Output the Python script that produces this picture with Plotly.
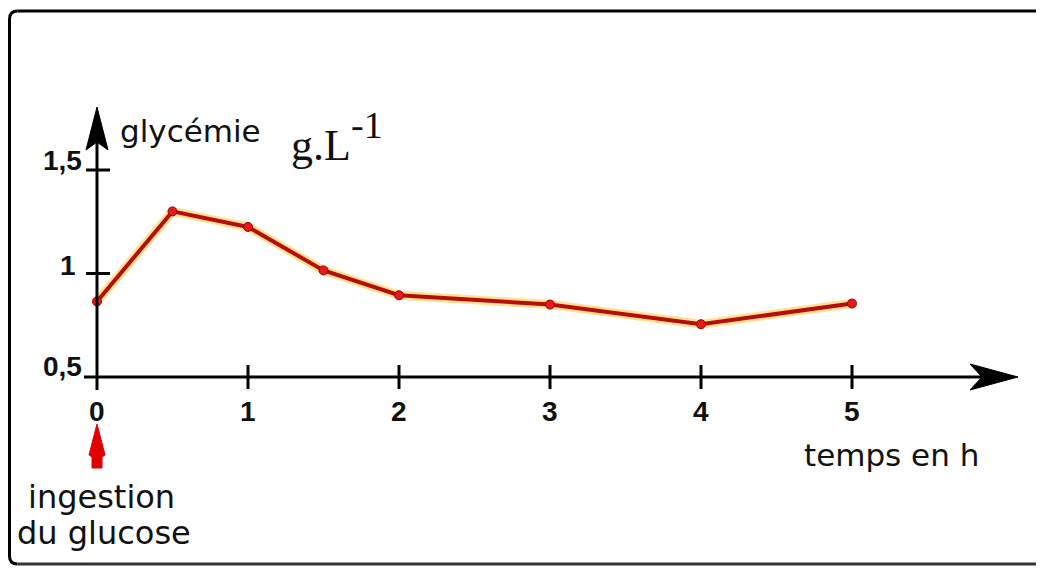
import plotly.graph_objects as go

# ---- data ----
hours = [0, 0.5, 1, 1.5, 2, 3, 4, 5]
glycemie = [0.865, 1.30, 1.225, 1.015, 0.895, 0.85, 0.755, 0.855]
x_ticks = [0, 1, 2, 3, 4, 5]
x_tick_labels = ["0", "1", "2", "3", "4", "5"]
y_ticks = [0.5, 1, 1.5]
y_tick_labels = ["0,5", "1", "1,5"]

# ---- layout calibration (page pixels) ----
W, H = 1028, 558
OFF = 8            # default body margin of the html page
X0_PAGE, XSCALE = 97, 151      # page x of t=0, pixels per hour
Y05_PAGE, YSCALE = 377, 207    # page y of 0.5 g/L, pixels per g/L


def X(px):
    return (px - X0_PAGE) / XSCALE


def Y(py):
    return 0.5 + (Y05_PAGE - py) / YSCALE


def PX(px):  # paper x from page px
    return (px - OFF) / W


def PY(py):  # paper y from page py
    return 1 - (py - OFF) / H


FONT = "DejaVu Sans"
NUMFONT = "Liberation Sans"
INK = "#111111"

fig = go.Figure()

# yellow halo under the curve
fig.add_trace(go.Scatter(
    x=hours, y=glycemie, mode="lines",
    line=dict(color="rgba(255,200,60,0.55)", width=9),
    hoverinfo="skip", showlegend=False))
# red curve with points
fig.add_trace(go.Scatter(
    x=hours, y=glycemie, mode="lines+markers",
    line=dict(color="#b80d0d", width=4),
    marker=dict(size=9, color="#e31b1b", line=dict(color="#a00000", width=1)),
    showlegend=False))

shapes = []
LW = 3
# frame (rounded corners on the left, open at right)
l, t, b = PX(9.5), PY(11), PY(564)
rx, ry = 8 / W, 8 / H
shapes.append(dict(
    type="path", xref="paper", yref="paper",
    path=(f"M {l+rx},{t} Q {l},{t} {l},{t-ry} "
          f"L {l},{b+ry} Q {l},{b} {l+rx},{b}"),
    line=dict(color="black", width=3)))
shapes.append(dict(type="line", xref="paper", yref="paper", x0=l + rx, x1=1.0, y0=t, y1=t,
                   line=dict(color="black", width=3)))
shapes.append(dict(type="line", xref="paper", yref="paper", x0=l + rx, x1=1.0, y0=b, y1=b,
                   line=dict(color="#333333", width=3)))

# y axis line
shapes.append(dict(type="line", x0=0, x1=0, y0=Y(390), y1=Y(140),
                   line=dict(color="black", width=LW)))
# y arrowhead
shapes.append(dict(type="path", fillcolor="black", line=dict(color="black", width=1),
                   path=(f"M {X(86)},{Y(150)} L {X(97)},{Y(107)} L {X(108)},{Y(150)} "
                         f"L {X(97)},{Y(142)} Z")))
# x axis line
shapes.append(dict(type="line", x0=X(84), x1=X(1000), y0=0.5, y1=0.5,
                   line=dict(color="black", width=LW)))
# x arrowhead
shapes.append(dict(type="path", fillcolor="black", line=dict(color="black", width=1),
                   path=(f"M {X(970)},{Y(364)} L {X(1018)},{Y(377)} L {X(970)},{Y(390)} "
                         f"L {X(982)},{Y(377)} Z")))
# y ticks
for v in y_ticks[1:]:
    shapes.append(dict(type="line", x0=X(86), x1=X(110), y0=v, y1=v,
                       line=dict(color="black", width=LW)))
# x ticks
for v in x_ticks[1:]:
    shapes.append(dict(type="line", x0=v, x1=v, y0=Y(365), y1=Y(389),
                       line=dict(color="black", width=LW)))
# red ingestion arrow
shapes.append(dict(type="path", fillcolor="#e00000", line=dict(color="#e00000", width=1),
                   path=(f"M {X(97)},{Y(424)} L {X(105)},{Y(455)} L {X(102)},{Y(457)} "
                         f"L {X(102)},{Y(468)} L {X(92)},{Y(468)} L {X(92)},{Y(457)} "
                         f"L {X(89)},{Y(455)} Z")))

ann = []
# x tick labels
for v, s in zip(x_ticks, x_tick_labels):
    ann.append(dict(x=v, y=Y(411), text=f"<b>{s}</b>", showarrow=False, xanchor="center",
                    yanchor="middle", font=dict(family=NUMFONT, size=28, color=INK)))
# y tick labels
ylab_pos = {"0,5": (84, 366), "1": (78, 265), "1,5": (84, 160)}
for v, s in zip(y_ticks, y_tick_labels):
    px, py = ylab_pos[s]
    ann.append(dict(x=X(px), y=Y(py), text=f"<b>{s}</b>", showarrow=False, xanchor="right",
                    yanchor="middle", font=dict(family=NUMFONT, size=28, color=INK)))

ann.append(dict(x=X(118), y=Y(131), text="glycémie", showarrow=False, xanchor="left",
                yanchor="middle", font=dict(family=FONT, size=31, color=INK)))
ann.append(dict(x=X(289), y=Y(145), text="g.L", showarrow=False, xanchor="left",
                yanchor="middle", font=dict(family="Liberation Serif", size=44, color=INK)))
ann.append(dict(x=X(349), y=Y(125), text="-1", showarrow=False, xanchor="left",
                yanchor="middle", font=dict(family="Liberation Serif", size=38, color=INK)))
ann.append(dict(x=X(802), y=Y(455), text="temps en h", showarrow=False, xanchor="left",
                yanchor="middle", font=dict(family=FONT, size=31, color=INK)))
ann.append(dict(x=X(101), y=Y(497), text="ingestion", showarrow=False, xanchor="center",
                yanchor="middle", font=dict(family=FONT, size=32, color=INK)))
ann.append(dict(x=X(104), y=Y(533), text="du glucose", showarrow=False, xanchor="center",
                yanchor="middle", font=dict(family=FONT, size=32, color=INK)))

fig.update_layout(
    width=W, height=H,
    margin=dict(l=0, r=0, t=0, b=0),
    paper_bgcolor="white", plot_bgcolor="white",
    xaxis=dict(range=[X(OFF), X(OFF + W)], visible=False, fixedrange=True),
    yaxis=dict(range=[Y(OFF + H), Y(OFF)], visible=False, fixedrange=True),
    shapes=shapes, annotations=ann,
)

fig.write_html("out.html")
